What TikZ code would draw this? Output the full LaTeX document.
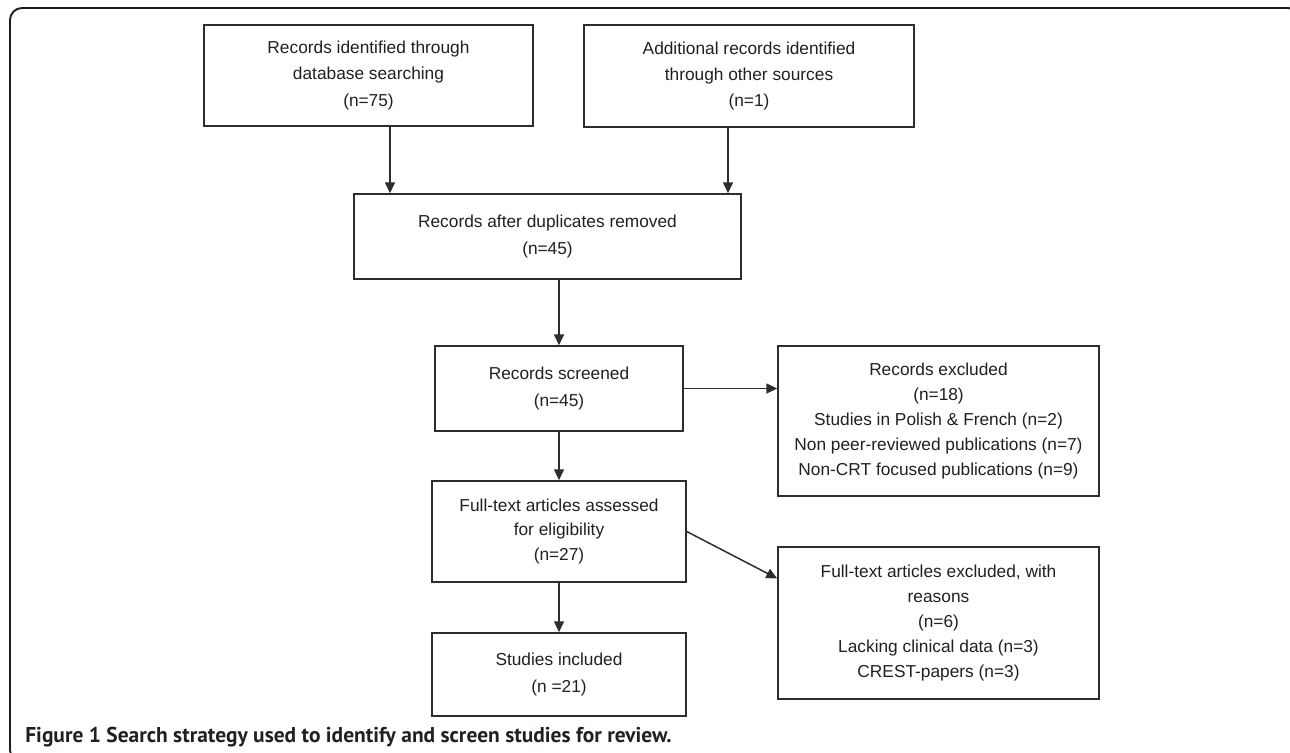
\documentclass[tikz,border=0pt]{standalone}
\usepackage{fontspec}
\setmainfont{Liberation Sans}
\newfontfamily\captionfont{PT Sans}
\usetikzlibrary{arrows.meta,calc,positioning}
\definecolor{boxline}{RGB}{45,45,45}
\definecolor{textcol}{RGB}{35,31,32}
\definecolor{framecol}{RGB}{30,30,30}

\begin{document}
\begin{tikzpicture}[x=0.02cm,y=-0.02cm,
    box/.style={draw=boxline,line width=0.85pt,align=center,inner sep=0pt,
        text=textcol,font=\fontsize{9.85}{14.9}\selectfont},
    arr/.style={draw=boxline,line width=0.85pt,-{Triangle[length=0.22cm,width=0.2cm]}}]
    \useasboundingbox (0,0) rectangle (1290,752);

    % Cadre
    \draw[framecol,line width=1.1pt,rounded corners=0.24cm] (10,8) rectangle (1300,762);

    % Identification
    \node[box,minimum width=6.58cm,minimum height=2.02cm] (db) at (368.5,75.5)
        {Records identified through\\database searching\\(n=75)};
    \node[box,minimum width=6.6cm,minimum height=2.04cm] (other) at (749,76)
        {Additional records identified\\through other sources\\(n=1)};

    % Duplicates
    \node[box,minimum width=7.74cm,minimum height=1.7cm] (dup) at (547.5,236.5)
        {Records after duplicates removed\\(n=45)};

    % Screening
    \node[box,minimum width=4.96cm,minimum height=1.7cm] (screen) at (559,388.5)
        {Records screened\\(n=45)};
    \node[box,minimum width=6.42cm,minimum height=3cm,
        font=\fontsize{9.85}{14.2}\selectfont] (excl) at (938.5,421)
        {Records excluded\\(n=18)\\Studies in Polish \& French (n=2)\\
         Non peer-reviewed publications (n=7)\\Non-CRT focused publications (n=9)};

    % Eligibility
    \node[box,minimum width=5.08cm,minimum height=2.02cm,
        font=\fontsize{9.85}{14.2}\selectfont] (full) at (559,531.5)
        {Full-text articles assessed\\for eligibility\\(n=27)};
    \node[box,minimum width=6.42cm,minimum height=3.04cm,
        font=\fontsize{9.85}{14.2}\selectfont] (fexcl) at (938.5,623)
        {Full-text articles excluded, with\\reasons\\(n=6)\\
         Lacking clinical data (n=3)\\CREST-papers (n=3)};

    % Included
    \node[box,minimum width=5.08cm,minimum height=1.66cm] (incl) at (559,674.5)
        {Studies included\\(n =21)};

    % Fleches
    \draw[arr] ([xshift=0.43cm]db.south) -- ([xshift=0.43cm]db.south |- dup.north);
    \draw[arr] ([xshift=-0.42cm]other.south) -- ([xshift=-0.42cm]other.south |- dup.north);
    \draw[arr] (dup.south -| screen.north) -- (screen.north);
    \draw[arr] (screen.east) -- (screen.east -| excl.west);
    \draw[arr] (screen.south) -- (full.north);
    \draw[arr] (full.east) -- ($(fexcl.north west)!0.21!(fexcl.south west)$);
    \draw[arr] (full.south) -- (incl.north);

    % Legende
    \node[anchor=base west,inner sep=0pt,text=textcol,
        font=\captionfont\bfseries\fontsize{12.2}{14}\selectfont] (cap) at (25,742)
        {Figure 1 Search strategy used to identify and screen studies for review.};
\end{tikzpicture}
\end{document}
